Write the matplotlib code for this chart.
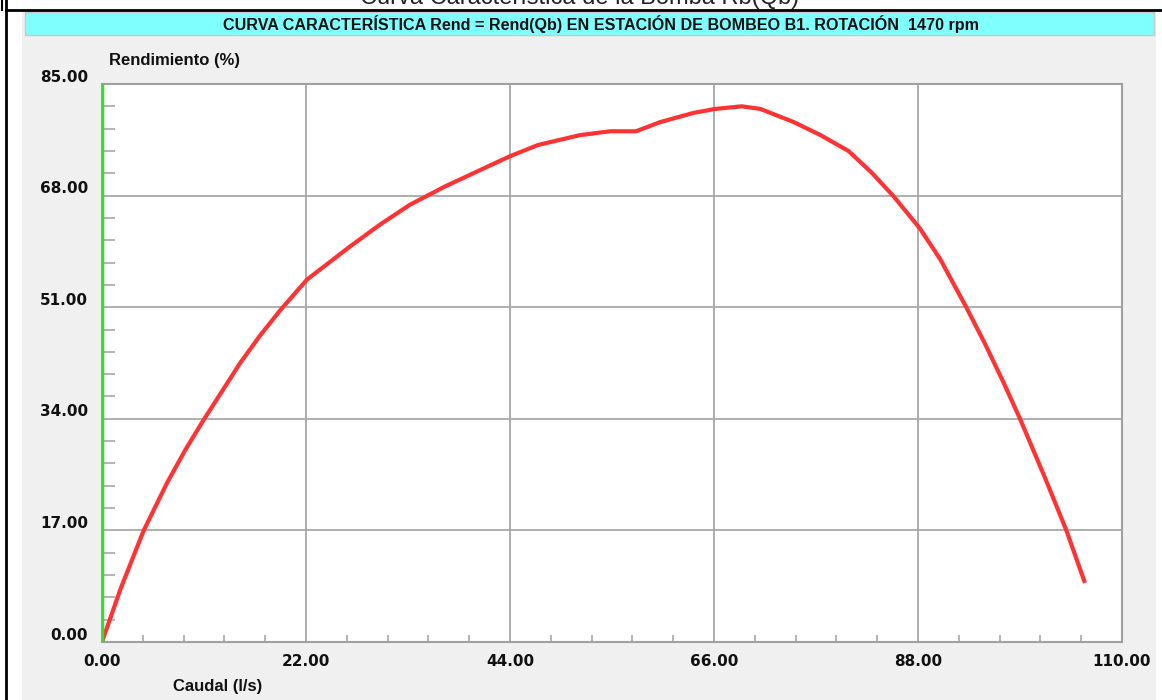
import matplotlib
matplotlib.use("Agg")
import matplotlib.pyplot as plt
from matplotlib.transforms import ScaledTranslation
from matplotlib.ticker import MultipleLocator
from matplotlib.patches import Rectangle
from matplotlib.lines import Line2D

plt.rcParams['font.family'] = ['Liberation Sans', 'DejaVu Sans']

# ---- data ----
caudal = [0, 2.0, 4.5, 7.0, 9.0, 10.9, 14.9, 17.0, 19.2, 22.1, 26.7, 30.0, 33.2,
          37.0, 40.8, 44.0, 47.0, 49.4, 51.5, 54.8, 57.6, 60.2, 63.8, 66.1, 69.0,
          71.0, 74.6, 77.5, 80.5, 83.0, 85.3, 88.2, 90.4, 93.2, 95.2, 97.2, 99.0,
          101.7, 104.0, 106.0]
rendimiento = [0, 8.1, 17.0, 24.2, 29.3, 33.7, 42.5, 46.6, 50.5, 55.2, 60.2, 63.6,
               66.6, 69.4, 71.9, 74.0, 75.7, 76.5, 77.2, 77.8, 77.8, 79.2, 80.6,
               81.2, 81.6, 81.2, 79.2, 77.2, 74.8, 71.5, 68.0, 63.0, 58.3, 51.0,
               45.5, 39.6, 34.0, 25.0, 17.0, 9.0]
x_ticks = [0, 22, 44, 66, 88, 110]
y_ticks = [0, 17, 34, 51, 68, 85]
x_tick_labels = ["0.00", "22.00", "44.00", "66.00", "88.00", "110.00"]
y_tick_labels = ["0.00", "17.00", "34.00", "51.00", "68.00", "85.00"]
page_title = "Curva Característica de la Bomba Rb(Qb)"
banner_title = "CURVA CARACTERÍSTICA Rend = Rend(Qb) EN ESTACIÓN DE BOMBEO B1. ROTACIÓN  1470 rpm"
y_title = "Rendimiento (%)"
x_title = "Caudal (l/s)"

W, H = 1162, 700
fig = plt.figure(figsize=(W / 100, H / 100), dpi=100, facecolor='white')

def fx(px):
    return px / W

def fy(py):
    return 1 - py / H

# gray panel
fig.patches.append(Rectangle((fx(22), 0), fx(1156) - fx(22), fy(10), transform=fig.transFigure,
                             facecolor='#F0F0F0', edgecolor='none', zorder=0))
# cyan banner
fig.patches.append(Rectangle((fx(25), fy(35)), fx(1154) - fx(25), fy(12) - fy(35),
                             transform=fig.transFigure, facecolor='#80FFFF',
                             edgecolor='#C8C8C8', linewidth=1, zorder=1))
# black frame lines
fig.lines.append(Line2D([fx(6), fx(6)], [0, 1], transform=fig.transFigure, color='black', lw=2))
fig.lines.append(Line2D([fx(6), 1], [fy(9.5), fy(9.5)], transform=fig.transFigure, color='black', lw=2))
fig.lines.append(Line2D([fx(1.5), fx(1.5)], [fy(9.5), 1], transform=fig.transFigure, color='black', lw=1.5))

fig.text(fx(580), fy(4), page_title, ha='center', va='baseline', fontsize=17, color='#222222')
fig.text(fx(601), fy(24), banner_title, ha='center', va='center', fontsize=11.6,
         fontweight='bold', color='#111111')

ax = fig.add_axes([fx(102), fy(642), fx(1122) - fx(102), fy(84) - fy(642)])
ax.set_zorder(5)
ax.set_facecolor('white')
ax.set_xlim(0, 110)
ax.set_ylim(0, 85)

ax.plot(caudal, rendimiento, color='#FF3333', lw=3, solid_capstyle='butt',
        solid_joinstyle='round', zorder=4)
ax.axvline(0, color='#33DD33', lw=2.5, zorder=5)

ax.set_xticks(x_ticks)
ax.set_xticklabels(x_tick_labels)
ax.set_yticks(y_ticks)
ax.set_yticklabels(y_tick_labels)
ax.xaxis.set_minor_locator(MultipleLocator(4.4))
ax.yaxis.set_minor_locator(MultipleLocator(3.4))
ax.grid(True, which='major', color='#A8A8A8', lw=1.3)
ax.tick_params(which='major', length=0, pad=10)
ax.tick_params(axis='x', which='major', pad=9)
ax.tick_params(axis='y', which='minor', direction='in', length=9, width=1.2, color='#A8A8A8')
ax.tick_params(axis='x', which='minor', direction='in', length=5, width=1.2, color='#A8A8A8')
for lab in ax.get_xticklabels() + ax.get_yticklabels():
    lab.set_family('DejaVu Sans')
    lab.set_fontsize(11)
    lab.set_fontweight('bold')
    lab.set_color('#111111')
for lab in ax.get_yticklabels():
    lab.set_transform(lab.get_transform() + ScaledTranslation(0, 6 / 72, fig.dpi_scale_trans))
for sp in ax.spines.values():
    sp.set_color('#A0A0A0')
    sp.set_linewidth(1.5)

fig.text(fx(109), fy(61), y_title, ha='left', va='center', fontsize=12, fontweight='bold', color='#111111')
fig.text(fx(173), fy(687), x_title, ha='left', va='center', fontsize=12, fontweight='bold', color='#111111')

fig.savefig('out.png', dpi=100, facecolor='white')
